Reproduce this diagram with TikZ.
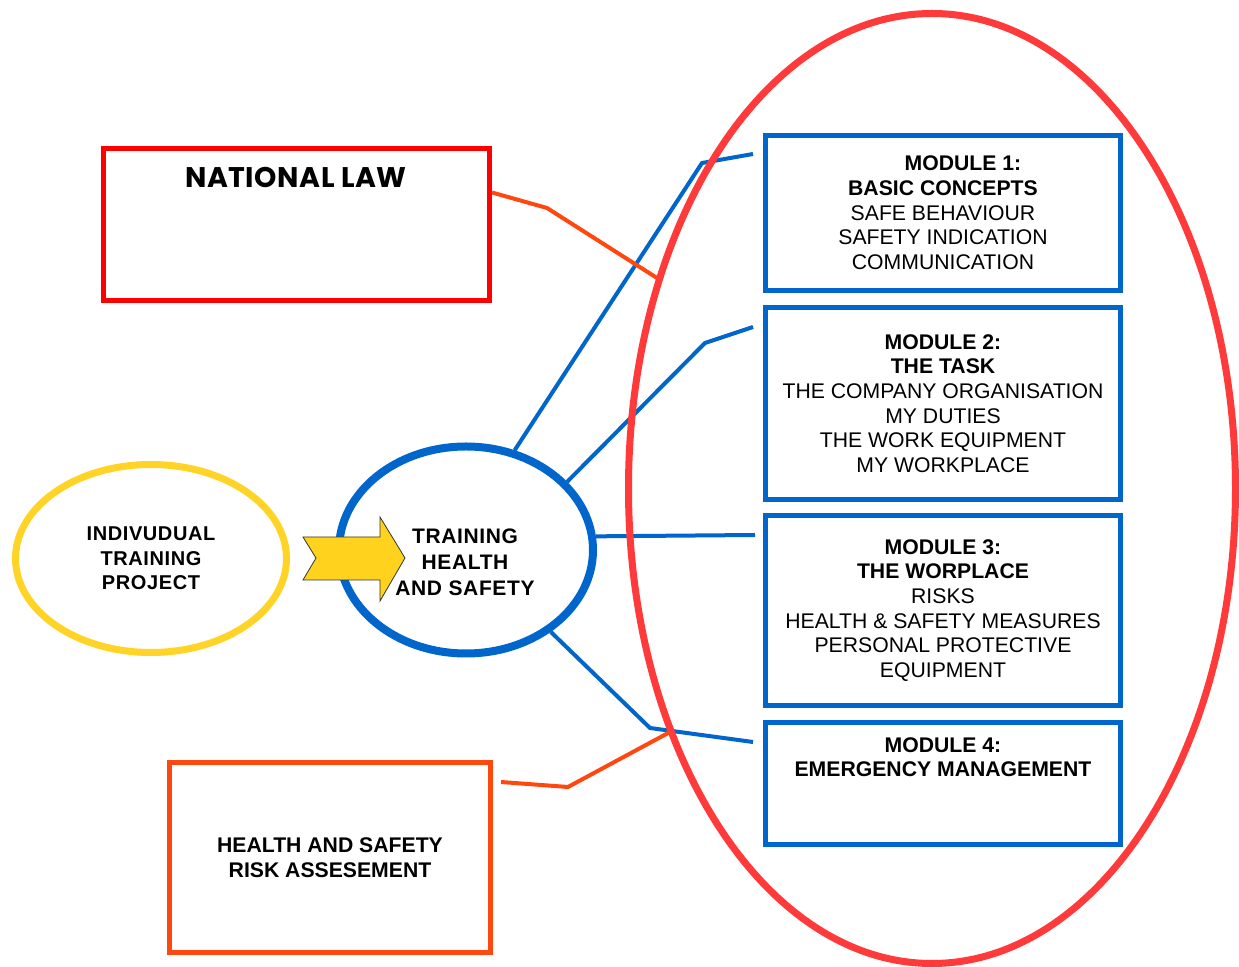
\documentclass[tikz,border=0pt]{standalone}
\usepackage{fontspec}
\setmainfont{Liberation Sans}
\newfontfamily\spacedsans{Liberation Sans}[LetterSpace=3]
\newfontfamily\lawfont{Poppins}[LetterSpace=2]
\usetikzlibrary{shapes.geometric}
\pgfdeclarelayer{background}
\pgfsetlayers{background,main}

\definecolor{modblue}{RGB}{0,102,204}
\definecolor{ringred}{RGB}{255,58,58}
\definecolor{lawred}{RGB}{255,0,0}
\definecolor{riskorange}{RGB}{255,72,16}
\definecolor{projyellow}{RGB}{255,212,38}
\definecolor{arrowyellow}{RGB}{255,210,30}

\tikzset{
  modbox/.style={draw=modblue, line width=2.5pt, rectangle, minimum width=177.5pt,
    inner sep=0pt, align=center, font=\fontsize{10.6}{12.35}\selectfont},
  bluelink/.style={draw=modblue, line width=2pt},
  orangelink/.style={draw=riskorange, line width=2pt},
}

\begin{document}
\begin{tikzpicture}[x=0.5pt, y=-0.5pt]
\useasboundingbox (0,0) rectangle (1239,967);

% the modules
\node[modbox, minimum height=77.5pt] (m1) at (943,213)
  {\hspace*{20pt}\textbf{MODULE 1:}\\ \textbf{BASIC CONCEPTS}\\ SAFE BEHAVIOUR\\
   SAFETY INDICATION\\ COMMUNICATION};
\node[modbox, minimum height=96pt] (m2) at (943,403.5)
  {\textbf{MODULE 2:}\\ \textbf{THE TASK}\\ THE COMPANY ORGANISATION\\ MY DUTIES\\
   THE WORK EQUIPMENT\\ MY WORKPLACE};
\node[modbox, minimum height=95pt] (m3) at (943,610.5)
  {\textbf{MODULE 3:}\\ \textbf{THE WORPLACE}\\ RISKS\\ HEALTH \& SAFETY MEASURES\\
   PERSONAL PROTECTIVE\\ EQUIPMENT};
\node[modbox, minimum height=61pt, text depth=26.5pt] (m4) at (943,783.5)
  {\textbf{MODULE 4:}\\ \textbf{EMERGENCY MANAGEMENT}};

% big ring round the modules
\node[ellipse, draw=ringred, line width=3.5pt, inner sep=0pt,
  minimum width=303.5pt, minimum height=475pt] (ring) at (932,488.5) {};

% left side
\node[draw=lawred, line width=2.5pt, inner sep=0pt,
  minimum width=193pt, minimum height=76pt] (natlaw) at (296.5,224.5) {};
\node[font=\lawfont\bfseries\fontsize{14.2}{16}\selectfont, inner sep=0pt]
  (lawtext) at (296,177.5) {NATIONAL LAW};

\node[draw=riskorange, line width=2.5pt, inner sep=0pt, align=center,
  minimum width=160.5pt, minimum height=95pt,
  font=\bfseries\fontsize{10.6}{12.5}\selectfont] (risk) at (330,857.5)
  {HEALTH AND SAFETY\\ RISK ASSESEMENT};

\node[ellipse, draw=projyellow, line width=3.5pt, inner sep=0pt, align=center,
  minimum width=135.5pt, minimum height=94pt,
  font=\spacedsans\bfseries\fontsize{10}{12.25}\selectfont] (project) at (151,558.5)
  {INDIVUDUAL\\ TRAINING\\ PROJECT};

\node[ellipse, draw=modblue, line width=4pt, inner sep=0pt,
  minimum width=127pt, minimum height=103.5pt] (train) at (466,550) {};
\node[align=center, inner sep=0pt,
  font=\spacedsans\bfseries\fontsize{10.5}{13}\selectfont] (traintext) at (465,562)
  {TRAINING\\ HEALTH\\ AND SAFETY};

\draw[fill=arrowyellow, draw=black!80, line width=0.4pt]
  (303,537) -- (380,537) -- (380,517) -- (405,558) -- (380,601)
  -- (380,580) -- (303,580) -- (316,558) -- cycle;

% connectors
\coordinate (m1in) at (753,154);
\coordinate (m2in) at (753,327);
\coordinate (m3in) at (755,535);
\coordinate (m4in) at (753,742);
\coordinate (lawend) at (657,278);
\coordinate (riskend) at (670,732);

\begin{pgfonlayer}{background}
\fill[white] (0,0) rectangle (1239,967);
\draw[bluelink] (train.64) -- (702,163) -- (m1in);
\draw[bluelink] (train.34) -- (705,343) -- (m2in);
\draw[bluelink] (train.6) -- (m3in);
\draw[bluelink] (train.-44) -- (650,728) -- (m4in);
\end{pgfonlayer}

\draw[orangelink] ([yshift=16pt]natlaw.east) -- (547,208) -- (lawend);
\draw[orangelink] ([xshift=4pt, yshift=37.75pt]risk.east) -- (568,787) -- (riskend);
\end{tikzpicture}
\end{document}
